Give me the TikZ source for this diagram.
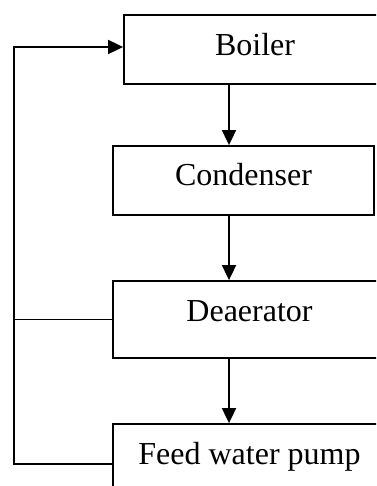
\documentclass[tikz,border=0pt]{standalone}
\usepackage{fontspec}
\setmainfont{Liberation Serif}
\usetikzlibrary{arrows.meta}
\begin{document}
\begin{tikzpicture}[x=1pt,y=-1pt,
  box/.style={draw,line width=1.8pt,rectangle,inner sep=0pt},
  lbl/.style={anchor=base,inner sep=0pt,font=\fontsize{32}{38}\selectfont},
  conn/.style={line width=1.8pt},
  arr/.style={conn,-{Triangle[length=15pt,width=14pt]}}]
\useasboundingbox (0,0) rectangle (376,486);
\clip (0,0) rectangle (376,486);
\node[box,minimum width=262pt,minimum height=69pt] (boiler) at (255,49.5) {};
\node[box,minimum width=261pt,minimum height=69pt] (cond) at (243.5,180.5) {};
\node[box,minimum width=273pt,minimum height=77pt] (dea) at (249.5,319.5) {};
\node[box,minimum width=273pt,minimum height=80pt] (fwp) at (249.5,464) {};
\node[lbl] (tboiler) at (255,56) {Boiler};
\node[lbl] (tcond) at (243.5,185.5) {Condenser};
\node[lbl] (tdea) at (249.5,321.5) {Deaerator};
\node[lbl] (tfwp) at (249.5,464.5) {Feed water pump};
\coordinate (tl) at (14,47);
\draw[arr] (boiler.south -| 229,0) -- (cond.north -| 229,0);
\draw[arr] (cond.south -| 229,0) -- (dea.north -| 229,0);
\draw[arr] (dea.south -| 229,0) -- (fwp.north -| 229,0);
\draw[conn,line width=1.3pt] (dea.west) -- (dea.west -| tl);
\draw[arr] (fwp.west) -| (tl) -- (tl -| boiler.west);
\end{tikzpicture}
\end{document}
